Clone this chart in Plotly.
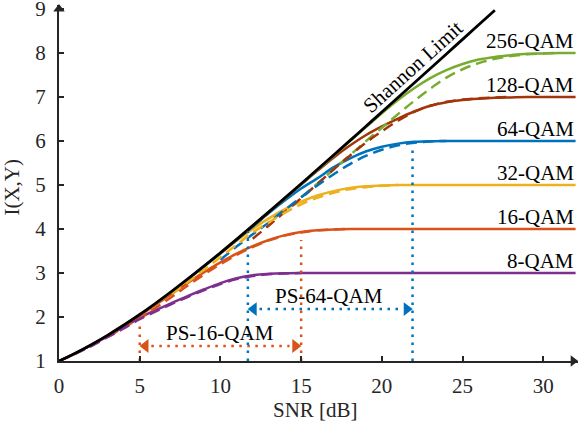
import plotly.graph_objects as go

# ---------------- data ----------------
shannon_snr = list(range(0, 28))
shannon_mi = [1.0, 1.176, 1.370, 1.583, 1.812, 2.057, 2.317, 2.588, 2.870, 3.161,
              3.459, 3.764, 4.075, 4.389, 4.707, 5.028, 5.351, 5.676, 6.002, 6.330,
              6.658, 6.988, 7.317, 7.647, 7.978, 8.309, 8.640, 8.972]

qam8_snr = list(range(0, 16)) + [32]
qam8_mi = [1.0, 1.17, 1.36, 1.56, 1.77, 1.98, 2.16, 2.32, 2.48, 2.63, 2.77, 2.88,
           2.95, 2.98, 2.995, 3.0, 3.0]

qam16_snr = list(range(0, 19)) + [32]
qam16_mi = [1.0, 1.17, 1.37, 1.58, 1.81, 2.03, 2.28, 2.53, 2.78, 3.02, 3.24, 3.44,
            3.61, 3.75, 3.86, 3.93, 3.97, 3.99, 4.0, 4.0]

qam32_snr = list(range(6, 23)) + [32]
qam32_mi = [2.31, 2.58, 2.86, 3.15, 3.44, 3.73, 4.0, 4.24, 4.45, 4.62, 4.76, 4.86,
            4.93, 4.97, 4.99, 5.0, 5.0, 5.0]

qam64_snr = list(range(8, 25)) + [32]
qam64_mi = [2.87, 3.16, 3.45, 3.75, 4.05, 4.36, 4.65, 4.92, 5.15, 5.40, 5.60, 5.76,
            5.87, 5.94, 5.98, 5.995, 6.0, 6.0]

qam128_snr = list(range(10, 30)) + [32]
qam128_mi = [3.46, 3.76, 4.07, 4.38, 4.70, 5.01, 5.32, 5.62, 5.89, 6.13, 6.33, 6.51,
             6.67, 6.80, 6.88, 6.93, 6.96, 6.98, 6.99, 7.0, 7.0]

qam256_snr = list(range(12, 32)) + [32]
qam256_mi = [4.07, 4.39, 4.70, 5.02, 5.34, 5.66, 5.99, 6.31, 6.63, 6.93, 7.20, 7.43,
             7.61, 7.75, 7.85, 7.91, 7.95, 7.98, 7.99, 8.0, 8.0]

# dashed curves
ps8_snr = list(range(0, 16))
ps8_mi = [1.0, 1.16, 1.34, 1.54, 1.74, 1.95, 2.13, 2.30, 2.46, 2.61, 2.75, 2.86,
          2.93, 2.97, 2.99, 3.0]

ps16_snr = list(range(3, 19))
ps16_mi = [1.55, 1.76, 1.97, 2.21, 2.46, 2.72, 2.97, 3.20, 3.41, 3.59, 3.74, 3.85,
           3.92, 3.97, 3.99, 4.0]

ps32_snr = list(range(7, 22))
ps32_mi = [2.53, 2.80, 3.08, 3.36, 3.64, 3.92, 4.15, 4.37, 4.56, 4.71, 4.82, 4.90,
           4.95, 4.98, 5.0]

ps64_snr = list(range(10, 25))
ps64_mi = [3.30, 3.60, 3.88, 4.15, 4.44, 4.72, 4.99, 5.24, 5.47, 5.66, 5.80, 5.90,
           5.96, 5.99, 6.0]

ps128_snr = list(range(12, 29))
ps128_mi = [3.78, 4.08, 4.39, 4.70, 5.02, 5.35, 5.66, 5.96, 6.22, 6.46, 6.66, 6.80,
            6.89, 6.94, 6.97, 6.99, 7.0]

ps256_snr = list(range(15, 32))
ps256_mi = [4.72, 5.03, 5.35, 5.67, 5.99, 6.30, 6.61, 6.91, 7.19, 7.44, 7.63, 7.77,
            7.87, 7.93, 7.97, 7.99, 8.0]

curve_labels = ["8-QAM", "16-QAM", "32-QAM", "64-QAM", "128-QAM", "256-QAM"]
curve_levels = [3, 4, 5, 6, 7, 8]

ps16_span = [5, 15]          # dB
ps16_vtop = [1.85, 3.75]     # top of the dotted verticals
ps16_arrow_y = 1.34
ps64_span = [11.7, 21.9]
ps64_vtop = [3.95, 5.9]
ps64_arrow_y = 2.18

x_ticks = [0, 5, 10, 15, 20, 25, 30]
y_ticks = [1, 2, 3, 4, 5, 6, 7, 8, 9]

# ---------------- styling ----------------
FONT = "Liberation Serif"
AX = "#262626"
colors = ["#7E2F8E", "#D95319", "#EDB120", "#0072BD", "#A2350A", "#77AC30"]
LW = 2.5
FS = 21

fig = go.Figure()

solid = [(qam8_snr, qam8_mi), (qam16_snr, qam16_mi), (qam32_snr, qam32_mi),
         (qam64_snr, qam64_mi), (qam128_snr, qam128_mi), (qam256_snr, qam256_mi)]
dashed = [(ps8_snr, ps8_mi), (ps16_snr, ps16_mi), (ps32_snr, ps32_mi),
          (ps64_snr, ps64_mi), (ps128_snr, ps128_mi), (ps256_snr, ps256_mi)]

for (xs, ys), c in zip(solid, colors):
    fig.add_trace(go.Scatter(x=xs, y=ys, mode="lines", line=dict(color=c, width=LW, shape="spline"),
                             showlegend=False, hoverinfo="skip", cliponaxis=False))
for (xs, ys), c in reversed(list(zip(dashed, colors))):
    fig.add_trace(go.Scatter(x=xs, y=ys, mode="lines",
                             line=dict(color=c, width=LW, shape="spline", dash="11px,6px"),
                             showlegend=False, hoverinfo="skip", cliponaxis=False))

fig.add_trace(go.Scatter(x=shannon_snr, y=shannon_mi, mode="lines",
                         line=dict(color="black", width=2.8, shape="spline"),
                         showlegend=False, hoverinfo="skip", cliponaxis=False))

# dotted PS range markers
def ps_marker(span, vtop, ay, color):
    for xv, top in zip(span, vtop):
        fig.add_trace(go.Scatter(x=[xv, xv], y=[1, top], mode="lines",
                                 line=dict(color=color, width=2.5, dash="2.5px,5.5px"),
                                 showlegend=False, hoverinfo="skip", cliponaxis=False))
    dx = 0.36
    fig.add_trace(go.Scatter(x=[span[0] + 2 * dx, span[1] - 2 * dx], y=[ay, ay], mode="lines",
                             line=dict(color=color, width=2.5, dash="2.5px,5.5px"),
                             showlegend=False, hoverinfo="skip"))
    fig.add_trace(go.Scatter(x=[span[0] + dx, span[1] - dx], y=[ay, ay], mode="markers",
                             marker=dict(symbol=["triangle-left", "triangle-right"], size=12,
                                         color=color, line=dict(width=0)),
                             showlegend=False, hoverinfo="skip"))

ps_marker(ps16_span, ps16_vtop, ps16_arrow_y, colors[1])
ps_marker(ps64_span, ps64_vtop, ps64_arrow_y, colors[3])

# axis arrows
fig.add_trace(go.Scatter(x=[0], y=[9.0], mode="markers",
                         marker=dict(symbol="triangle-up", size=10, color=AX),
                         showlegend=False, hoverinfo="skip", cliponaxis=False))
fig.add_trace(go.Scatter(x=[31.85], y=[1], mode="markers",
                         marker=dict(symbol="triangle-right", size=10, color=AX),
                         showlegend=False, hoverinfo="skip", cliponaxis=False))

annotations = []
for lab, lev in zip(curve_labels, curve_levels):
    annotations.append(dict(x=32, y=lev + 0.28, text=lab, showarrow=False,
                            xanchor="right", yanchor="middle",
                            font=dict(family=FONT, size=FS, color="black")))
annotations.append(dict(x=10.0, y=1.64, text="PS-16-QAM", showarrow=False,
                        font=dict(family=FONT, size=FS, color="black")))
annotations.append(dict(x=16.7, y=2.48, text="PS-64-QAM", showarrow=False,
                        font=dict(family=FONT, size=FS, color="black")))
annotations.append(dict(x=21.9, y=7.69, text="Shannon Limit", showarrow=False, textangle=-42,
                        font=dict(family=FONT, size=FS, color="black")))
annotations.append(dict(xref="paper", yref="paper", x=0.494, y=-0.1376, text="SNR [dB]",
                        showarrow=False, xanchor="center", yanchor="middle",
                        font=dict(family=FONT, size=FS, color="#262626")))
annotations.append(dict(xref="paper", yref="paper", x=-0.0912, y=0.489, text="I(X,Y)",
                        showarrow=False, textangle=-90, xanchor="center", yanchor="middle",
                        font=dict(family=FONT, size=FS, color="#262626")))

fig.update_layout(
    width=579, height=432,
    margin=dict(l=59, r=1, t=5, b=71),
    paper_bgcolor="white", plot_bgcolor="white",
    showlegend=False,
    annotations=annotations,
    xaxis=dict(range=[0, 32.15], showgrid=False, zeroline=False, showline=True,
               linecolor=AX, linewidth=2, ticks="inside", ticklen=5, tickwidth=1.5,
               tickcolor=AX, tickvals=x_ticks, ticklabelstandoff=5, automargin=False,
               ticklabeloverflow="allow",
               tickfont=dict(family=FONT, size=FS, color="#262626")),
    yaxis=dict(range=[1, 9.09], showgrid=False, zeroline=False, showline=True,
               linecolor=AX, linewidth=2, ticks="inside", ticklen=5, tickwidth=1.5,
               tickcolor=AX, tickvals=y_ticks, ticklabelstandoff=7, automargin=False,
               ticklabeloverflow="allow",
               tickfont=dict(family=FONT, size=FS, color="#262626")),
)

fig.write_html("out.html", config={"displayModeBar": False},
               post_script="document.body.style.margin='0';document.body.style.overflow='hidden';")
